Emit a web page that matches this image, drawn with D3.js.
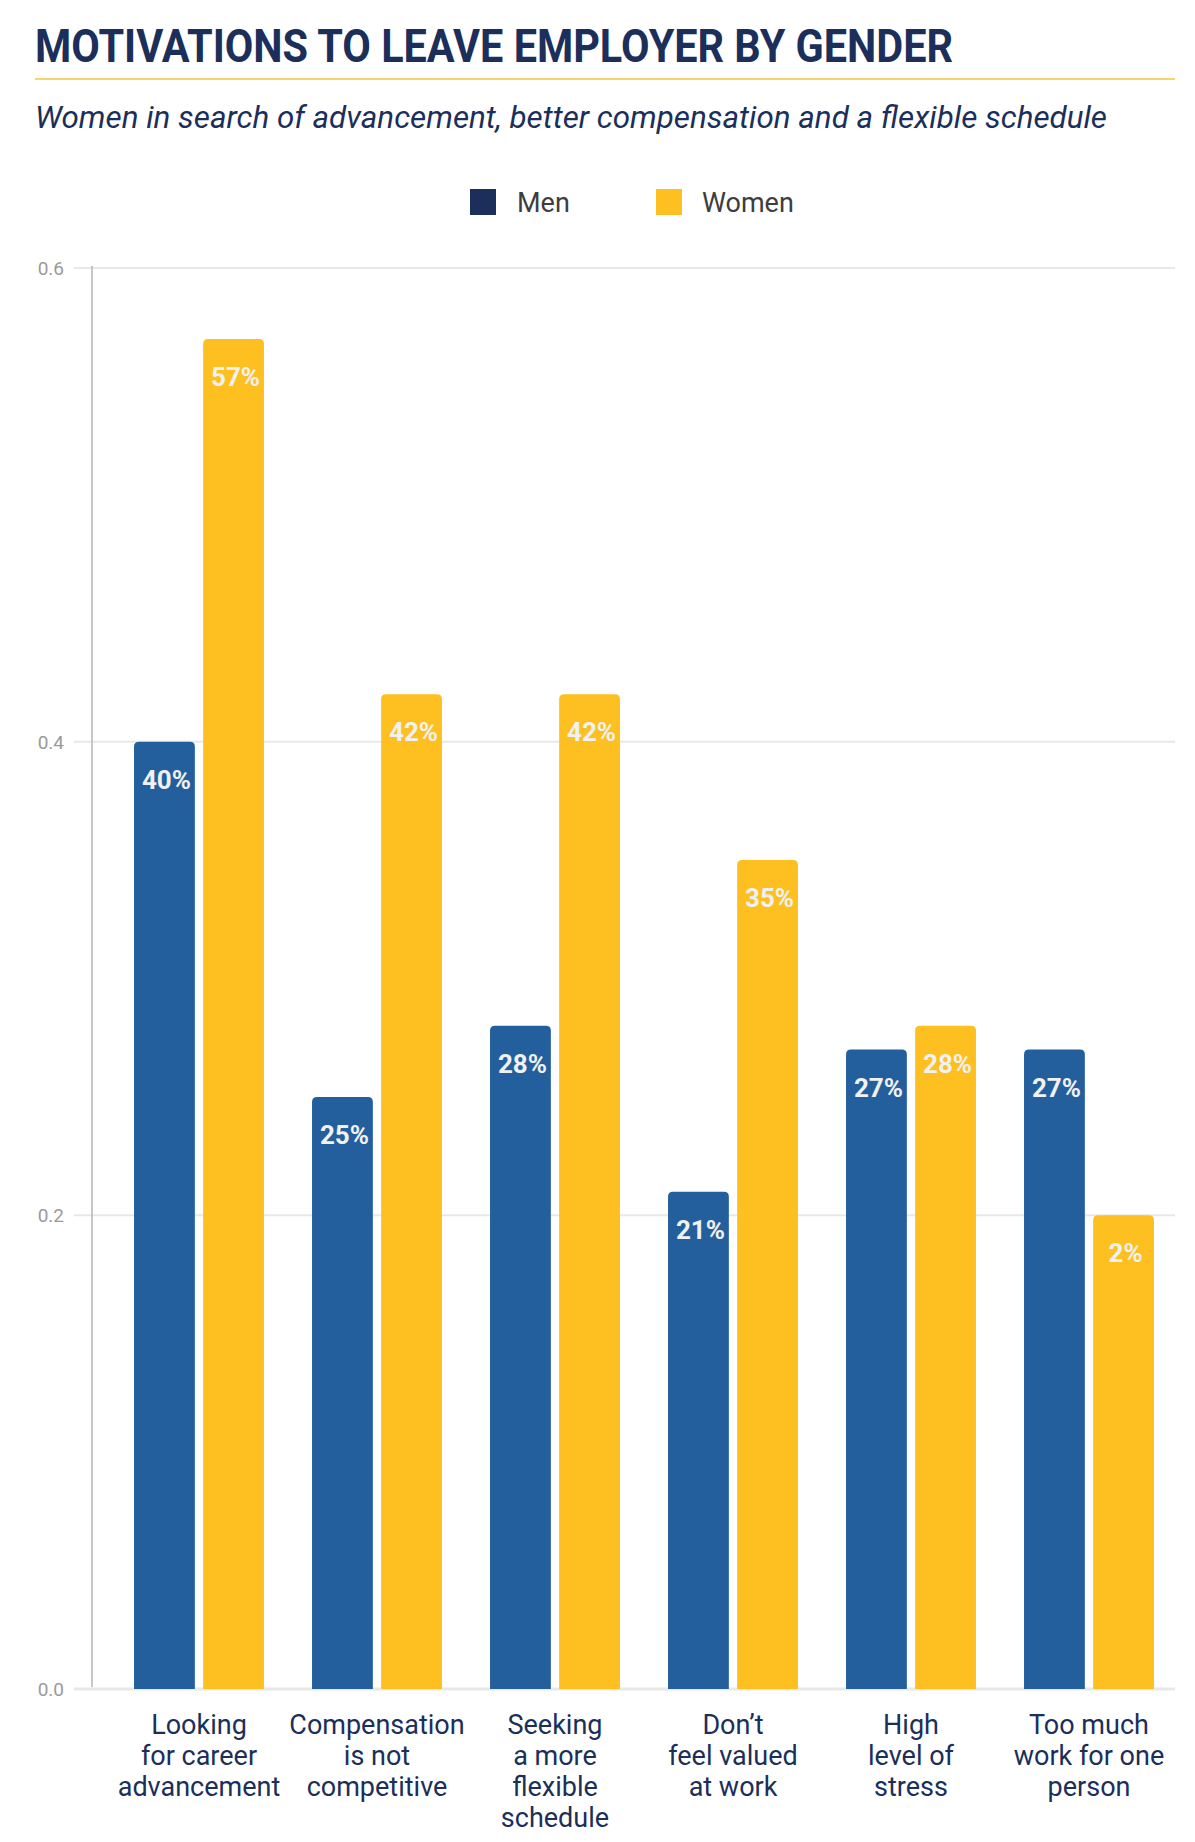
<!DOCTYPE html>
<html>
<head>
<meta charset="utf-8">
<script src="https://cdn.jsdelivr.net/npm/d3@7"></script>
<style>
  html, body { margin: 0; padding: 0; background: #fff; }
  svg { display: block; }
</style>
</head>
<body>
<script>
// ---- data ----
const categories = [
  ["Looking", "for career", "advancement"],
  ["Compensation", "is not", "competitive"],
  ["Seeking", "a more", "flexible", "schedule"],
  ["Don\u2019t", "feel valued", "at work"],
  ["High", "level of", "stress"],
  ["Too much", "work for one", "person"]
];
const seriesNames = ["Men", "Women"];
const menValues = [0.40, 0.25, 0.28, 0.21, 0.27, 0.27];
const womenValues = [0.57, 0.42, 0.42, 0.35, 0.28, 0.20];
const menLabels = ["40%", "25%", "28%", "21%", "27%", "27%"];
const womenLabels = ["57%", "42%", "42%", "35%", "28%", "2%"];
const yTicks = [0, 0.2, 0.4, 0.6];
const title = "MOTIVATIONS TO LEAVE EMPLOYER BY GENDER";
const subtitle = "Women in search of advancement, better compensation and a flexible schedule";

// ---- styles ----
const W = 1195, H = 1842;
const barColors = { Men: "#235f9c", Women: "#fdc020" };
const legendColors = { Men: "#1b2f5a", Women: "#fdc020" };
const navy = "#1b2f5a";

const svg = d3.select("body").append("svg").attr("width", W).attr("height", H);

// title
svg.append("text")
  .attr("x", 35).attr("y", 62)
  .attr("font-family", "Roboto, 'DejaVu Sans', sans-serif")
  .attr("font-weight", 700)
  .attr("font-size", 46)
  .attr("fill", navy)
  .attr("textLength", 918)
  .attr("lengthAdjust", "spacingAndGlyphs")
  .text(title);

svg.append("line")
  .attr("x1", 35).attr("x2", 1175).attr("y1", 79).attr("y2", 79)
  .attr("stroke", "#f7d56b").attr("stroke-width", 2);

svg.append("text")
  .attr("x", 35).attr("y", 128)
  .attr("font-family", "Roboto, 'DejaVu Sans', sans-serif")
  .attr("font-style", "italic")
  .attr("font-size", 31)
  .attr("fill", navy)
  .attr("textLength", 1072)
  .attr("lengthAdjust", "spacingAndGlyphs")
  .text(subtitle);

// legend
const legendPos = { Men: [470, 517], Women: [656, 702] };
seriesNames.forEach(s => {
  svg.append("rect")
    .attr("x", legendPos[s][0]).attr("y", 189)
    .attr("width", 26).attr("height", 26)
    .attr("fill", legendColors[s]);
  svg.append("text")
    .attr("x", legendPos[s][1]).attr("y", 212)
    .attr("font-family", "Roboto, 'DejaVu Sans', sans-serif")
    .attr("font-size", 27)
    .attr("fill", "#3d3d40")
    .text(s);
});

// scales
const y = d3.scaleLinear().domain([0, 0.6]).range([1689, 268]);
const x0 = d3.scaleBand().domain(d3.range(categories.length))
  .range([110, 1178]).paddingInner(0.27).paddingOuter(0.135);
const x1 = d3.scaleBand().domain(seriesNames)
  .range([0, x0.bandwidth()]).paddingInner(0.12);

// gridlines
const grid = svg.append("g");
grid.selectAll("line").data(yTicks).join("line")
  .attr("x1", 74).attr("x2", 1175)
  .attr("y1", d => y(d)).attr("y2", d => y(d))
  .attr("stroke", "#e8e8e8")
  .attr("stroke-width", d => d === 0 ? 3 : 2);

// y axis
const yAxis = svg.append("g")
  .call(d3.axisLeft(y).tickValues(yTicks).tickFormat(d3.format(".1f")).tickSize(0).tickPadding(0));
yAxis.select(".domain").remove();
yAxis.selectAll("text")
  .attr("x", 64)
  .attr("dy", "0.35em")
  .attr("font-family", "Roboto, 'DejaVu Sans', sans-serif")
  .attr("font-size", 19)
  .attr("fill", "#9a9a9a")
  .attr("text-anchor", "end");

svg.append("line")
  .attr("x1", 92).attr("x2", 92).attr("y1", y(0.6) - 2).attr("y2", y(0) - 2)
  .attr("stroke", "#b5b5b5").attr("stroke-width", 1.5);

// bars
const rows = categories.map((c, i) => ({
  i,
  bars: [
    { s: "Men", v: menValues[i], label: menLabels[i] },
    { s: "Women", v: womenValues[i], label: womenLabels[i] }
  ]
}));

function topRoundedRect(x, yTop, w, h, r) {
  return `M${x},${yTop + h}V${yTop + r}Q${x},${yTop} ${x + r},${yTop}H${x + w - r}Q${x + w},${yTop} ${x + w},${yTop + r}V${yTop + h}Z`;
}

const groups = svg.append("g").selectAll("g").data(rows).join("g")
  .attr("transform", d => `translate(${x0(d.i)},0)`);

groups.selectAll("path").data(d => d.bars).join("path")
  .attr("d", b => topRoundedRect(x1(b.s), y(b.v), x1.bandwidth(), y(0) - y(b.v), 5))
  .attr("fill", b => barColors[b.s]);

groups.selectAll("text.val").data(d => d.bars).join("text")
  .attr("class", "val")
  .attr("x", b => x1(b.s) + x1.bandwidth() / 2 + 2)
  .attr("y", b => y(b.v) + 47)
  .attr("text-anchor", "middle")
  .attr("font-family", "Roboto, 'DejaVu Sans', sans-serif")
  .attr("font-weight", 700)
  .attr("font-size", 26)
  .attr("fill", "#f1f1f1")
  .text(b => b.label);

// category labels
const catG = svg.append("g");
categories.forEach((lines, i) => {
  const cx = x0(i) + x0.bandwidth() / 2;
  const t = catG.append("text")
    .attr("x", cx)
    .attr("y", 1734)
    .attr("text-anchor", "middle")
    .attr("font-family", "Roboto, 'DejaVu Sans', sans-serif")
    .attr("font-size", 27)
    .attr("fill", navy);
  lines.forEach((ln, k) => {
    t.append("tspan")
      .attr("x", cx)
      .attr("y", 1734 + k * 31)
      .text(ln);
  });
});
</script>
</body>
</html>
